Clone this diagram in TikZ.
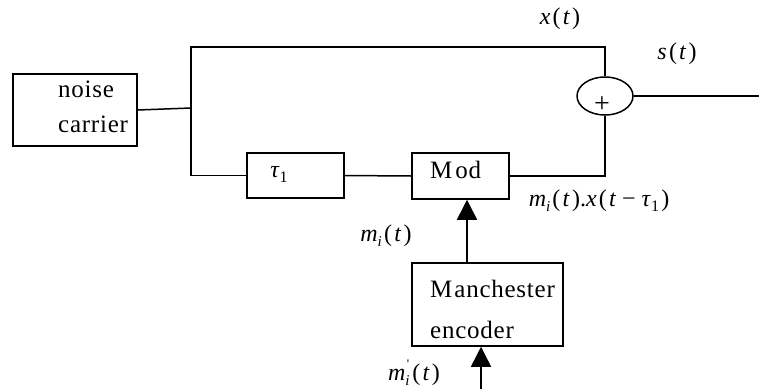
\documentclass[tikz,border=0pt]{standalone}
\usepackage{fontspec}
\setmainfont{Liberation Serif}
\newfontfamily\boxfont[LetterSpace=3]{Liberation Serif}
\usetikzlibrary{shapes.geometric,arrows.meta}

% small spacing used in the signal labels
\newcommand\sg{\kern2.2pt}
\newcommand\subi{\raisebox{-5pt}{\fontsize{15}{15}\selectfont\itshape i}}
\newcommand\subone{\raisebox{-5pt}{\fontsize{16}{16}\selectfont 1}}
\newcommand\tauv{\textit{τ}}
% subscript i with a prime set above it
\newcommand\subiprime{\rlap{\raisebox{-5pt}{\fontsize{15}{15}\selectfont\itshape i}}\raisebox{12pt}{\fontsize{13}{13}\selectfont\kern1.5pt\textquotesingle}\kern1pt}

\begin{document}
\begin{tikzpicture}[x=1pt,y=-1pt,
  wire/.style={line width=1.5pt},
  blockbox/.style={draw,line width=1.5pt,rectangle,inner sep=0pt},
  boxtext/.style={inner sep=0pt,anchor=base west,font=\boxfont\fontsize{25}{27}\selectfont},
  sig/.style={inner sep=0pt,anchor=base,font=\fontsize{24}{26}\selectfont},
  feed/.style={line width=1.5pt,-{Triangle[width=20pt,length=20pt]}}]

\useasboundingbox (0,0) rectangle (759,391);

% blocks
\node[blockbox,minimum width=124pt,minimum height=72pt] (noise) at (75,110) {};
\node[boxtext] (noiseA) at (58,97) {noise};
\node[boxtext] (noiseB) at (58,132) {carrier};

\node[blockbox,minimum width=97pt,minimum height=45pt] (tau) at (295.5,175.5) {};
\node[sig] (tauT) at (279,177) {\tauv\subone};

\node[blockbox,minimum width=97pt,minimum height=46pt] (mod) at (460.5,176) {};
\node[boxtext] (modT) at (430,178) {M\kern3pt od};

\node[blockbox,minimum width=151pt,minimum height=83pt] (man) at (487.5,304.5) {};
\node[boxtext] (manA) at (430,297) {M\kern2pt anchester};
\node[boxtext] (manB) at (430,338) {encoder};

\node[draw,line width=1.5pt,ellipse,minimum width=56pt,minimum height=38pt,inner sep=0pt] (sum) at (605,96) {};
\node[inner sep=0pt,font=\fontsize{28}{28}\selectfont] (plus) at (602,105) {+};

% connection points
\coordinate (jn) at (191,108);
\coordinate (top) at (605,47);
\coordinate (out) at (759,96);
\coordinate (modin) at (467,263);
\coordinate (src) at (481,389);

% wiring
\draw[wire] (noise.east) -- (jn);
\draw[wire] (jn) |- (top) -- (sum.north);
\draw[wire] (jn) |- (tau.west);
\draw[wire] (tau.east) -- (mod.west);
\draw[wire] (mod.east) -| (sum.south);
\draw[wire] (sum.east) -- (out);
\draw[feed] (modin) -- (modin |- mod.south);
\draw[feed] (src) -- (src |- man.south);

% signal labels
\node[sig] (lx) at (560,24) {\textit{x}\sg(\sg\textit{t}\sg)};
\node[sig] (ls) at (677,59) {\textit{s}\sg(\sg\textit{t}\sg)};
\node[sig] (lprod) at (599,206) {\textit{m}\subi\sg(\sg\textit{t}\sg).\textit{x}\sg(\sg\textit{t}\kern6pt−\kern6pt\tauv\subone\sg)};
\node[sig] (lmi) at (386,241) {\textit{m}\subi\sg(\sg\textit{t}\sg)};
\node[sig] (lmp) at (414,380) {\textit{m}\subiprime\sg(\sg\textit{t}\sg)};
\end{tikzpicture}
\end{document}
